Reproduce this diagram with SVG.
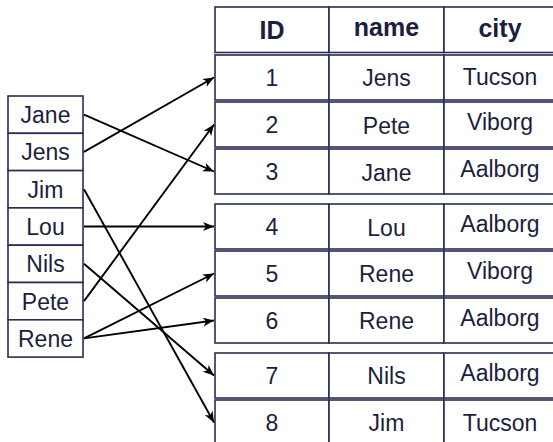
<svg xmlns="http://www.w3.org/2000/svg" width="553" height="442" viewBox="0 0 553 442">
<style>
.c{fill:#ffffff;stroke:#2a2d52;stroke-width:1.6}
.t{font-family:"Liberation Sans",Arial,sans-serif;font-size:23px;fill:#1c1e3c;text-anchor:middle}
.b{font-weight:bold;font-size:25px}
.a{stroke:#000;stroke-width:1.9;fill:none;marker-end:url(#ah)}
</style>
<defs>
<marker id="ah" markerWidth="12" markerHeight="10" refX="11" refY="4.5" orient="auto" markerUnits="userSpaceOnUse">
<path d="M0,0 L11,4.5 L0,9 L3,4.5 z" fill="#000"/>
</marker>
</defs>
<rect width="553" height="442" fill="#ffffff"/>
<g id="left-list">
<g id="l-jane"><rect class="c" x="8" y="96" width="75" height="37.3"/><text class="t" x="45.5" y="123">Jane</text></g>
<g id="l-jens"><rect class="c" x="8" y="133.3" width="75" height="37.3"/><text class="t" x="45.5" y="160.3">Jens</text></g>
<g id="l-jim"><rect class="c" x="8" y="170.6" width="75" height="37.3"/><text class="t" x="45.5" y="197.6">Jim</text></g>
<g id="l-lou"><rect class="c" x="8" y="207.9" width="75" height="37.3"/><text class="t" x="45.5" y="234.9">Lou</text></g>
<g id="l-nils"><rect class="c" x="8" y="245.2" width="75" height="37.3"/><text class="t" x="45.5" y="272.2">Nils</text></g>
<g id="l-pete"><rect class="c" x="8" y="282.5" width="75" height="37.3"/><text class="t" x="45.5" y="309.5">Pete</text></g>
<g id="l-rene"><rect class="c" x="8" y="319.8" width="75" height="37.3"/><text class="t" x="45.5" y="346.8">Rene</text></g>
</g>
<g id="table">
<g id="header">
<rect class="c" x="215" y="7" width="114" height="45.5"/><rect class="c" x="329" y="7" width="115" height="45.5"/><rect class="c" x="444" y="7" width="114" height="45.5"/>
<text class="t b" x="272" y="39">ID</text><text class="t b" x="386.5" y="36">name</text><text class="t b" x="500" y="37">city</text>
</g>
<g id="row1">
<rect class="c" x="215" y="55" width="114" height="45"/><rect class="c" x="329" y="55" width="115" height="45"/><rect class="c" x="444" y="55" width="114" height="45"/>
<text class="t" x="272" y="86">1</text><text class="t" x="386.5" y="86">Jens</text><text class="t" x="500" y="85">Tucson</text>
</g>
<g id="row2">
<rect class="c" x="215" y="102" width="114" height="45"/><rect class="c" x="329" y="102" width="115" height="45"/><rect class="c" x="444" y="102" width="114" height="45"/>
<text class="t" x="272" y="133">2</text><text class="t" x="386.5" y="134">Pete</text><text class="t" x="500" y="130">Viborg</text>
</g>
<g id="row3">
<rect class="c" x="215" y="149" width="114" height="45"/><rect class="c" x="329" y="149" width="115" height="45"/><rect class="c" x="444" y="149" width="114" height="45"/>
<text class="t" x="272" y="180">3</text><text class="t" x="386.5" y="181">Jane</text><text class="t" x="500" y="177">Aalborg</text>
</g>
<g id="row4">
<rect class="c" x="215" y="204" width="114" height="45"/><rect class="c" x="329" y="204" width="115" height="45"/><rect class="c" x="444" y="204" width="114" height="45"/>
<text class="t" x="272" y="235">4</text><text class="t" x="386.5" y="236">Lou</text><text class="t" x="500" y="232">Aalborg</text>
</g>
<g id="row5">
<rect class="c" x="215" y="251" width="114" height="45"/><rect class="c" x="329" y="251" width="115" height="45"/><rect class="c" x="444" y="251" width="114" height="45"/>
<text class="t" x="272" y="282">5</text><text class="t" x="386.5" y="282">Rene</text><text class="t" x="500" y="279">Viborg</text>
</g>
<g id="row6">
<rect class="c" x="215" y="298" width="114" height="45"/><rect class="c" x="329" y="298" width="115" height="45"/><rect class="c" x="444" y="298" width="114" height="45"/>
<text class="t" x="272" y="329">6</text><text class="t" x="386.5" y="329">Rene</text><text class="t" x="500" y="326">Aalborg</text>
</g>
<g id="row7">
<rect class="c" x="215" y="353" width="114" height="45"/><rect class="c" x="329" y="353" width="115" height="45"/><rect class="c" x="444" y="353" width="114" height="45"/>
<text class="t" x="272" y="384">7</text><text class="t" x="386.5" y="384">Nils</text><text class="t" x="500" y="381">Aalborg</text>
</g>
<g id="row8">
<rect class="c" x="215" y="400" width="114" height="46"/><rect class="c" x="329" y="400" width="115" height="46"/><rect class="c" x="444" y="400" width="114" height="46"/>
<text class="t" x="272" y="431">8</text><text class="t" x="386.5" y="431">Jim</text><text class="t" x="500" y="431">Tucson</text>
</g>
</g>
<g id="connectors">
<line class="a" x1="84" y1="114.6" x2="214" y2="171.5"/>
<line class="a" x1="84" y1="151.9" x2="214" y2="77.5"/>
<line class="a" x1="84" y1="189.2" x2="214" y2="422.5"/>
<line class="a" x1="84" y1="226.5" x2="214" y2="226.5"/>
<line class="a" x1="84" y1="263.8" x2="214" y2="375.5"/>
<line class="a" x1="84" y1="301.1" x2="214" y2="124.5"/>
<line class="a" x1="84" y1="338.4" x2="214" y2="273.5"/>
<line class="a" x1="84" y1="338.4" x2="214" y2="320.5"/>
</g>
</svg>
